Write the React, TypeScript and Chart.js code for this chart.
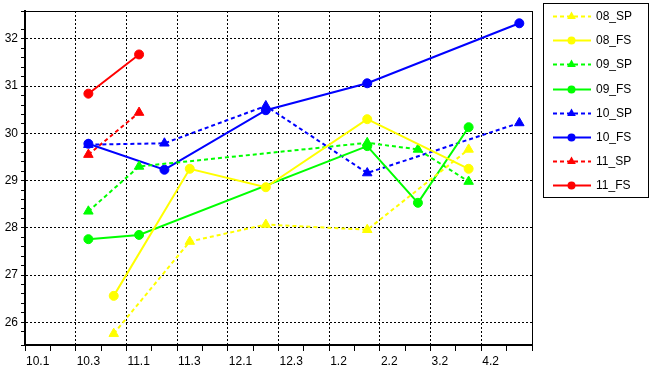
import React, { useEffect, useRef } from "react";
import { Chart, registerables } from "chart.js";

Chart.register(...registerables);

// ---- data ----
const xTickLabels = ["10.1", "10.3", "11.1", "11.3", "12.1", "12.3", "1.2", "2.2", "3.2", "4.2"];
const yTickLabels = ["26", "27", "28", "29", "30", "31", "32"];

const sp08X = [1.75, 3.25, 4.75, 6.75, 8.75];
const sp08Y = [25.76, 27.71, 28.07, 27.96, 29.66];
const fs08X = [1.75, 3.25, 4.75, 6.75, 8.75];
const fs08Y = [26.56, 29.25, 28.86, 30.3, 29.25];
const sp09X = [1.25, 2.25, 6.75, 7.75, 8.75];
const sp09Y = [28.35, 29.3, 29.8, 29.66, 28.98];
const fs09X = [1.25, 2.25, 6.75, 7.75, 8.75];
const fs09Y = [27.76, 27.85, 29.73, 28.53, 30.13];
const sp10X = [1.25, 2.75, 4.75, 6.75, 9.75];
const sp10Y = [29.76, 29.79, 30.58, 29.16, 30.22];
const fs10X = [1.25, 2.75, 4.75, 6.75, 9.75];
const fs10Y = [29.78, 29.23, 30.49, 31.06, 32.33];
const sp11X = [1.25, 2.25];
const sp11Y = [29.55, 30.44];
const fs11X = [1.25, 2.25];
const fs11Y = [30.84, 31.67];

const seriesNames = ["08_SP", "08_FS", "09_SP", "09_FS", "10_SP", "10_FS", "11_SP", "11_FS"];
const seriesX = [sp08X, fs08X, sp09X, fs09X, sp10X, fs10X, sp11X, fs11X];
const seriesY = [sp08Y, fs08Y, sp09Y, fs09Y, sp10Y, fs10Y, sp11Y, fs11Y];
const seriesColors = ["#FFFF00", "#FFFF00", "#00FF00", "#00FF00", "#0000FF", "#0000FF", "#FF0000", "#FF0000"];

const FONT = "'Liberation Sans', Arial, sans-serif";
const isInt = (v: number) => Math.abs(v - Math.round(v)) < 1e-6;

const frameAndLegend = {
  id: "frameAndLegend",
  afterDraw(chart: any) {
    const ctx = chart.ctx as CanvasRenderingContext2D;
    const a = chart.chartArea;
    ctx.save();
    // thin top/right frame
    ctx.strokeStyle = "#000";
    ctx.lineWidth = 1;
    ctx.beginPath();
    ctx.moveTo(a.left, a.top + 0.5);
    ctx.lineTo(a.right + 0.5, a.top + 0.5);
    ctx.lineTo(a.right + 0.5, a.bottom);
    ctx.stroke();

    // legend box
    ctx.fillStyle = "#fff";
    ctx.fillRect(543, 3, 105, 194);
    ctx.strokeRect(543.5, 3.5, 105, 194);
    const ds = chart.data.datasets;
    ds.forEach((d: any, i: number) => {
      const y = Math.round(16 + i * 24.2) + 0.5;
      ctx.strokeStyle = d.borderColor;
      ctx.fillStyle = d.borderColor;
      ctx.lineWidth = 2;
      ctx.setLineDash(d.borderDash || []);
      ctx.beginPath();
      ctx.moveTo(553, y);
      ctx.lineTo(591, y);
      ctx.stroke();
      ctx.setLineDash([]);
      ctx.beginPath();
      if (d.pointStyle === "triangle") {
        const r = 5;
        ctx.moveTo(571.5, y - r);
        ctx.lineTo(571.5 + r * 0.866, y + r * 0.5);
        ctx.lineTo(571.5 - r * 0.866, y + r * 0.5);
        ctx.closePath();
      } else {
        ctx.arc(571.5, y, 4, 0, Math.PI * 2);
      }
      ctx.fill();
      ctx.fillStyle = "#000";
      ctx.font = `12px ${FONT}`;
      ctx.textBaseline = "middle";
      ctx.textAlign = "left";
      ctx.fillText(d.label, 596, y);
    });
    ctx.restore();
  },
};

export default function App() {
  const ref = useRef<HTMLCanvasElement | null>(null);
  useEffect(() => {
    if (!ref.current) return;
    const datasets = seriesNames.map((name, i) => {
      const sp = name.endsWith("SP");
      return {
        label: name,
        data: seriesX[i].map((x, j) => ({ x, y: seriesY[i][j] })),
        borderColor: seriesColors[i],
        backgroundColor: seriesColors[i],
        borderWidth: 2,
        borderDash: sp ? [4, 3] : [],
        pointStyle: sp ? "triangle" : "circle",
        pointRadius: sp ? 5.5 : 4.5,
        pointBorderWidth: 1,
        pointBorderColor: seriesColors[i],
        pointBackgroundColor: seriesColors[i],
        tension: 0,
        fill: false,
      };
    });
    const chart = new Chart(ref.current, {
      type: "line",
      data: { datasets },
      plugins: [frameAndLegend],
      options: {
        responsive: false,
        animation: false,
        events: [],
        layout: { padding: { left: 0, top: 11, right: 120, bottom: 0 } },
        plugins: { legend: { display: false }, tooltip: { enabled: false } },
        scales: {
          x: {
            type: "linear",
            min: 0,
            max: 10,
            afterFit: (s: any) => {
              s.height = 26;
            },
            border: { display: true, color: "#000", width: 2, dash: [2, 2] },
            grid: {
              color: (c: any) => (c.tick && isInt(c.tick.value) ? "#000" : "rgba(0,0,0,0)"),
              tickColor: "#000",
              lineWidth: 1,
              tickWidth: 1,
              tickLength: 6,
              tickBorderDash: [],
            },
            ticks: {
              stepSize: 0.5,
              autoSkip: false,
              maxRotation: 0,
              align: "start",
              padding: 3,
              labelOffset: 1,
              color: "#000",
              font: { family: FONT, size: 12 },
              callback: (v: any) => (isInt(v) ? xTickLabels[Math.round(v)] ?? "" : ""),
            },
          },
          y: {
            type: "linear",
            min: 25.52,
            max: 32.59,
            afterFit: (s: any) => {
              s.width = 25;
            },
            border: { display: true, color: "#000", width: 2, dash: [2, 2] },
            grid: {
              color: (c: any) => (c.tick && isInt(c.tick.value) ? "#000" : "rgba(0,0,0,0)"),
              tickColor: "#000",
              lineWidth: 1,
              tickWidth: 1,
              tickLength: 4,
              tickBorderDash: [],
            },
            ticks: {
              stepSize: 0.2,
              autoSkip: false,
              padding: 3,
              color: "#000",
              font: { family: FONT, size: 12 },
              callback: (v: any) => (isInt(v) ? yTickLabels[Math.round(v) - 26] ?? "" : ""),
            },
          },
        },
      } as any,
    });
    return () => chart.destroy();
  }, []);
  return (
    <div style={{ position: "absolute", left: 0, top: 0, width: 652, height: 371, background: "#fff" }}>
      <canvas ref={ref} width={652} height={371} style={{ display: "block" }} />
    </div>
  );
}
